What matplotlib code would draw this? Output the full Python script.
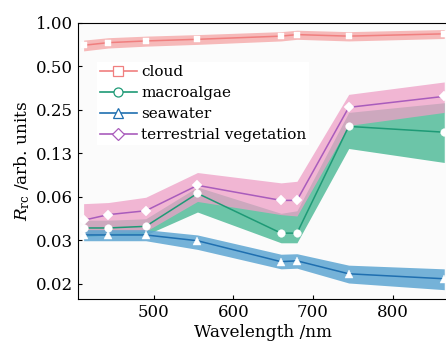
import numpy as np
import matplotlib.pyplot as plt

plt.rcParams['font.family'] = 'DejaVu Serif'
plt.rcParams['mathtext.fontset'] = 'dejavuserif'

wl = np.array([412, 443, 490, 555, 660, 680, 745, 865])

cloud = [0.70, 0.73, 0.75, 0.77, 0.81, 0.83, 0.81, 0.84]
cloud_lo = [0.64, 0.67, 0.69, 0.71, 0.75, 0.77, 0.75, 0.78]
cloud_hi = [0.76, 0.79, 0.81, 0.83, 0.87, 0.89, 0.87, 0.90]

macro = [0.038, 0.038, 0.039, 0.066, 0.035, 0.035, 0.192, 0.175]
macro_lo = [0.033, 0.034, 0.034, 0.049, 0.030, 0.030, 0.135, 0.108]
macro_hi = [0.043, 0.043, 0.044, 0.073, 0.048, 0.050, 0.240, 0.280]

sea = [0.034, 0.034, 0.034, 0.031, 0.0222, 0.0225, 0.0183, 0.0169]
sea_lo = [0.031, 0.031, 0.031, 0.027, 0.0198, 0.0200, 0.0158, 0.0142]
sea_hi = [0.037, 0.037, 0.037, 0.034, 0.0250, 0.0252, 0.0210, 0.0198]

terr = [0.043, 0.047, 0.050, 0.075, 0.059, 0.059, 0.26, 0.31]
terr_lo = [0.034, 0.035, 0.036, 0.058, 0.047, 0.046, 0.195, 0.24]
terr_hi = [0.056, 0.057, 0.062, 0.092, 0.078, 0.080, 0.32, 0.39]

yticks = [2.0**k for k in range(-6, 1)]
ytick_labels = ["0.02", "0.03", "0.06", "0.13", "0.25", "0.50", "1.00"]

fig = plt.figure(figsize=(4.46, 3.42), dpi=100)
ax = fig.add_axes([0.175, 0.126, 0.83, 0.807])
ax.set_facecolor('#fbfbfb')

# (name, values, lower, upper, marker, marker size, line colour, band colour, band alpha)
series = [
    ("cloud", cloud, cloud_lo, cloud_hi, 's', 5, '#f07f7f', '#f5a3a3', 0.75),
    ("macroalgae", macro, macro_lo, macro_hi, 'o', 5.5, '#1e9a76', '#5cbf9f', 0.9),
    ("terrestrial vegetation", terr, terr_lo, terr_hi, 'D', 5, '#a95cbc', '#ee9fc6', 0.75),
    ("seawater", sea, sea_lo, sea_hi, '^', 6, '#1f6fb0', '#5ea6d2', 0.85),
]
handles = {}
for name, y, lo, hi, mk, ms, lc, fc, a in series:
    ax.fill_between(wl, lo, hi, color=fc, alpha=a, lw=0)
    ax.plot(wl, y, color=lc, lw=1.1, marker=mk, ms=ms,
            mfc='white', mec='white', mew=0.3)
    h, = ax.plot([], [], color=lc, lw=1.2, marker=mk, ms=6.5,
                 mfc='white', mec=lc, mew=0.9)
    handles[name] = h

order = ["cloud", "macroalgae", "seawater", "terrestrial vegetation"]
leg = ax.legend([handles[k] for k in order], order, loc='upper left',
                bbox_to_anchor=(0.03, 0.885), frameon=True, fancybox=False,
                edgecolor='none', facecolor='white', framealpha=1,
                fontsize=11, handlelength=2.4, handletextpad=0.3,
                labelspacing=0.45, borderpad=0.2)

ax.set_yscale('log', base=2)
ax.set_ylim(2.0**-6.35, 1.0)
ax.set_xlim(405, 870)
ax.set_yticks(yticks)
ax.set_yticklabels(ytick_labels)
ax.minorticks_off()
ax.set_xticks([500, 600, 700, 800])
ax.tick_params(direction='in', length=3, labelsize=12, width=0.8)
ax.spines['right'].set_visible(False)

ax.set_xlabel("Wavelength /nm", fontsize=12.2, labelpad=2)
ax.set_ylabel(r"$R_{\rm rc}$ /arb. units", fontsize=12.2, labelpad=3)

fig.savefig("out.png", dpi=100)
